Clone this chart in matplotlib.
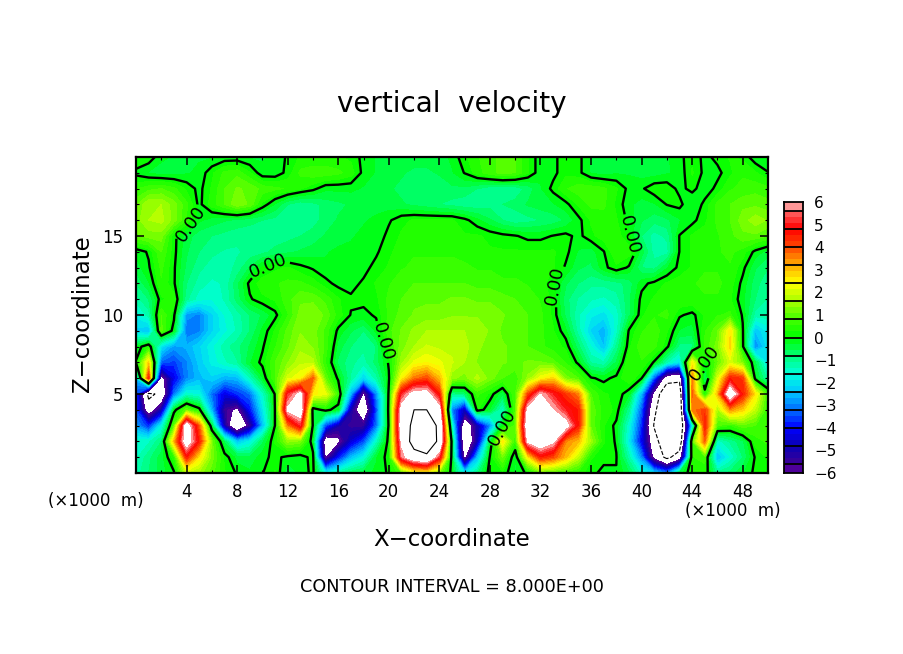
import numpy as np
import matplotlib
matplotlib.use("Agg")
from matplotlib import pyplot as plt
from matplotlib.colors import LinearSegmentedColormap, BoundaryNorm

# coordinates in units of 1000 m
x_km = list(range(0, 51))
z_km = list(range(0, 21))

# vertical velocity, one list per height, x = 0..50
w_z20 = [.3,.2,-.2,-.3,-.3,-.3,-.3,-.2,-.2,-.3,-.3, -.2,.05,.3,.3,.3,.3,.2,-.1,-.3,-.3, -.3,-.4,-.4,-.4,-.2,.2,.5,.7,.9,.8, .3,-.2,-.1,.2,.1,-.3,-.4,-.5,-.4,-.3, -.3,-.3,-.1,.2,-.1,.1,.3,.2,-.2,-.3]
w_z19 = [-.1,-.3,-.4,-.4,-.3,-.2,.2,.6,.7,.3,-.2, -.2,.1,.6,.7,.7,.6,.4,-.1,-.3,-.4, -.5,-.6,-.6,-.5,-.3,.02,.4,.7,.9,.8, .3,-.2,-.1,.2,.1,-.3,-.4,-.3,-.3,-.4, -.4,-.3,-.2,.3,-.1,-.1,.2,.5,.3,.02]
w_z18 = [.5,.7,.8,.6,.2,-.1,.3,.8,1.1,1.0,.7, .6,.5,.3,.1,-.2,-.2,-.2,-.3,-.4,-.5, -.6,-.7,-.8,-.7,-.6,-.6,-.8,-1.0,-1.0,-1.0, -.7,-.3,.1,.5,.7,.7,.6,.3,-.1,-.05, .2,.2,-.1,.1,-.2,.1,.5,.6,.7,.6]
w_z17 = [1.0,1.6,1.6,1.2,.6,-.1,.4,.8,1.3,1.0,.2, -.3,-.8,-1.0,-.9,-.7,-.6,-.5,-.4,-.4,-.4, -.5,-.6,-.7,-.8,-.9,-1.0,-1.0,-.9,-.8,-.7, -.5,-.4,-.3,-.1,.3,.6,.6,.2,-.2,-.4, -.3,.02,.1,-.3,.1,.6,.8,1.0,1.0,.9]
w_z16 = [1.2,1.6,1.7,1.2,.5,-.2,-.4,-.5,-.6,-.7,-.8, -.9,-1.0,-1.0,-.9,-.7,-.5,-.4,-.3,-.2,-.05, .2,.3,.3,.3,.3,.1,-.2,-.5,-.8,-1.0, -.9,-.8,-.7,-.5,-.1,.3,.4,.3,-.1,-.5, -.7,-.6,-.3,-.1,.2,.6,.8,1.2,1.5,1.3]
w_z15 = [1.0,1.2,1.2,.1,-.4,-.7,-.8,-.9,-1.0,-1.0,-1.0, -1.0,-.9,-.8,-.7,-.5,-.4,-.3,-.2,-.2,.1, .3,.4,.4,.4,.4,.3,.3,.2,.1,.03, -.1,-.1,.02,.1,-.1,.2,.4,.4,.05,-.8, -1.2,-1.0,.02,.3,.4,.5,.7,1.0,1.0,.8]
w_z14 = [-.2,.05,.8,.1,-.5,-.8,-1.0,-1.1,-1.1,-1.0,-.9, -.7,-.6,-.5,-.4,-.3,-.2,-.2,-.1,-.05,.2, .4,.5,.5,.5,.5,.4,.4,.3,.3,.3, .3,.3,.3,.1,-.3,-.4,-.02,.5,.4,-.4, -1.2,-1.2,.02,.3,.4,.5,.6,.4,-.1,-.4]
w_z13 = [-.4,-.05,.6,.05,-.6,-1.0,-1.2,-1.2,-1.0,-.5,.05, .2,.3,.1,-.05,-.2,-.2,-.2,-.1,.1,.3, .5,.6,.6,.6,.6,.6,.5,.5,.4,.4, .4,.4,.3,-.05,-.5,-.6,-.1,.2,-.05,-.8, -.9,-.3,.1,.3,.5,.5,.5,.1,-.5,-.8]
w_z12 = [-.8,-.3,.5,.05,-.8,-1.2,-1.4,-1.3,-.6,.1,.4, .5,.6,.6,.4,.1,-.1,-.1,.05,.3,.5, .7,.8,.8,.8,.8,.8,.7,.7,.6,.6, .5,.4,.05,-.5,-.8,-1.0,-1.0,-.9,-.7,-.1, .1,.3,.4,.5,.6,.6,.4,-.1,-.7,-1.0]
w_z11 = [-1.2,-.8,.2,.4,-1.0,-1.5,-1.6,-1.3,-.7,-.05,.2, .3,.7,1.0,1.0,.7,.3,.05,.1,.2,.6, .8,1.0,1.0,1.0,1.1,1.1,1.0,1.0,.9,.8, .7,.5,.2,-.7,-1.1,-1.3,-1.4,-1.2,-.6,.1, .3,.4,.5,.5,.5,.5,.3,-.2,-.8,-1.1]
w_z10 = [-1.8,-1.2,.8,.1,-2.8,-3.0,-2.2,-1.6,-1.2,-.8,-.5, -.1,.5,1.2,1.3,1.0,.4,-.02,-.1,.05,.6, .9,1.1,1.2,1.2,1.3,1.3,1.3,1.3,1.1,.9, .8,.6,.2,-.6,-1.3,-1.8,-2.0,-1.5,-.6,.2, .5,.6,.05,-.1,.3,.5,.6,-.05,-1.2,-1.2]
w_z09 = [-2.2,-2.5,.9,-.2,-3.2,-3.0,-2.2,-1.7,-1.3,-.8,-.2, .3,.9,1.3,1.2,.7,-.1,-.5,-.8,-.2,.7, 1.1,1.4,1.6,1.6,1.6,1.6,1.5,1.3,1.0,.9, .8,.6,.3,-.2,-1.2,-2.2,-2.6,-1.5,.05,.5, .7,.3,-.3,-.4,.5,1.0,2.6,.05,-2.4,-1.8]
w_z08 = [-.3,.4,-2.0,-2.8,-2.6,-2.2,-1.7,-1.2,-.9,-.5,-.05, .5,1.0,1.5,1.3,.7,-.4,-.8,-1.0,-.8,.5, 1.2,1.6,1.9,1.8,1.8,1.7,1.4,1.2,1.1,1.0, .8,.6,.4,.2,-.7,-1.6,-2.4,-1.0,.2,.7, .6,.1,-.9,-.9,.6,1.2,2.8,.1,-3.0,-2.0]
w_z07 = [.05,2.8,-3.3,-3.6,-3.0,-2.3,-1.8,-1.4,-1.1,-.3,.1, .8,1.3,1.8,1.7,.5,-.6,-1.0,-1.2,-.7,.05, 1.5,2.2,2.4,2.2,1.9,1.6,1.3,1.1,1.1,1.0, 1.1,1.1,.9,.5,-.1,-1.1,-1.3,-.5,.5,.5, -.05,-1.3,-2.0,2.5,-.1,1.0,2.0,1.2,-.5,-2.0]
w_z06 = [-2.5,4.5,-6.5,-4.2,-3.0,-2.5,-2.2,-2.6,-2.5,-1.4,-.3, .8,2.0,2.4,3.8,1.0,-.1,-1.1,-2.2,-1.2,-.05, 2.4,3.6,4.0,3.0,1.4,1.2,1.7,1.2,.8,.6, 1.4,2.3,2.8,1.2,.8,.05,-.1,.1,.5,.02, -3.5,-7.0,-7.5,3.5,-.8,2.0,4.5,4.2,-.2,-1.2]
w_z05 = [-3.5,-8.5,-7.5,-3.2,-1.5,-1.7,-3.2,-4.3,-3.7,-3.2,-1.5, .05,5.0,6.3,2.5,2.2,.6,-2.6,-6.3,-3.0,.1, 5.0,6.5,6.5,4.5,-1.0,-.8,.6,.2,-.5,.8, 4.0,6.0,5.0,4.2,3.5,.8,.3,.2,-.2,-2.6, -6.5,-10.0,-9.5,3.8,.3,3.0,7.0,4.5,2.6,.6]
w_z04 = [-3.5,-7.0,-5.0,-.2,1.0,.2,-2.6,-5.5,-6.3,-4.0,-2.0, .02,6.2,7.0,-.3,.2,-.3,-5.0,-7.5,-3.5,.2, 6.5,8.0,8.0,6.5,-3.0,-4.8,.3,-.3,-1.5,.8, 6.3,7.0,6.0,5.0,4.5,1.0,.4,.2,-1.0,-3.4, -7.5,-10.5,-10.0,3.5,4.2,1.6,3.4,2.8,1.8,.5]
w_z03 = [-2.8,-3.8,-1.8,.9,6.8,3.8,-.5,-5.0,-7.8,-5.5,-2.5, .02,3.5,5.0,-.1,-3.5,-5.0,-5.5,-5.5,-3.2,.1, 6.8,8.5,9.5,7.5,-1.5,-7.2,-5.0,-3.0,-.1,.9, 7.0,7.5,7.0,6.5,4.5,1.0,.3,-.1,-1.6,-3.8, -8.2,-10.5,-10.0,-2.0,4.5,.8,.5,1.0,.8,.6]
w_z02 = [-1.4,-1.4,-.8,3.0,6.8,4.5,1.2,-.6,-2.4,-1.8,-.6, .3,1.4,1.2,-.3,-7.0,-6.3,-4.5,-3.5,-1.5,.2, 6.2,9.0,9.8,7.5,-.3,-7.5,-5.0,-.5,2.6,.5, 6.2,7.0,6.2,3.5,3.0,1.5,.3,-.05,-1.9,-4.2, -7.0,-10.0,-9.5,.8,3.8,-1.5,-1.0,-.6,.4,.6]
w_z01 = [-1.4,-.9,-.4,.4,4.5,2.6,1.2,.2,-.4,-.5,-.1, .1,-.1,-.2,.15,-6.2,-4.0,-2.5,-1.7,-.3,.15, 5.5,7.0,7.5,5.0,-.3,-6.5,-2.5,.05,1.1,-.4, 2.5,4.5,4.0,3.0,1.8,.3,.1,.02,-1.2,-3.0, -6.5,-8.5,-7.0,.5,.7,-2.5,-1.6,-.8,.05,.3]
w_z00 = [-1.2,-.8,-.4,-.05,1.8,1.5,.9,.3,-.05,-.2,-.02, .3,-.5,-.2,.1,-1.8,-1.1,-.6,-.4,-.2,.05, .8,2.0,2.2,1.2,-.2,-2.0,-.9,.2,.2,-.3, .1,1.0,.8,.6,.4,.1,-.1,-.02,-.5,-1.5, -2.2,-3.0,-.5,.3,.3,-1.0,-.7,-.3,.1,.2]

w_rows = [w_z00, w_z01, w_z02, w_z03, w_z04, w_z05, w_z06, w_z07, w_z08, w_z09, w_z10,
          w_z11, w_z12, w_z13, w_z14, w_z15, w_z16, w_z17, w_z18, w_z19, w_z20]

x_ticklabels = [4, 8, 12, 16, 20, 24, 28, 32, 36, 40, 44, 48]
z_ticklabels = [5, 10, 15]
bar_ticklabels = [6, 5, 4, 3, 2, 1, 0, -1, -2, -3, -4, -5, -6]

# where the 0.00 labels sit on the zero line
label_spots = [(4.67, 15.5), (10.44, 13.3), (19.5, 8.3), (33.6, 11.9), (39.3, 15.06), (29.0, 2.9), (44.4, 7.0)]

color_anchors = [
    (-6.0, (110, 0, 160)), (-5.6, (60, 0, 150)), (-4.8, (10, 0, 180)), (-4.0, (0, 0, 255)),
    (-3.2, (0, 110, 255)), (-2.4, (0, 200, 255)), (-1.6, (0, 255, 220)), (-0.8, (0, 255, 120)),
    (0.0, (0, 255, 0)), (0.8, (70, 255, 0)), (1.6, (170, 255, 0)), (2.4, (255, 255, 0)),
    (3.2, (255, 170, 0)), (4.0, (255, 70, 0)), (4.8, (255, 0, 0)), (5.5, (255, 90, 90)),
    (5.6, (255, 145, 145)), (6.0, (255, 165, 165)),
]


def px_axes(fig, left, top, right, bottom):
    # pixel box of the reference -> figure fractions
    w, h = fig.get_size_inches() * fig.dpi
    return [left / w, 1 - bottom / h, (right - left) / w, (bottom - top) / h]


cmap = LinearSegmentedColormap.from_list(
    "wvel", [((v + 6) / 12, tuple(c / 255 for c in rgb)) for v, rgb in color_anchors], N=512)
cmap.set_under("white")
cmap.set_over("white")

box_edges = np.arange(-5.6, 5.7, 0.8)
fine_levels = np.concatenate(([-6.0], np.linspace(-5.6, 5.6, 43), [6.0]))
norm = BoundaryNorm(fine_levels, 512, extend="both")

fig = plt.figure(figsize=(9.04, 6.54), dpi=100)
ax = fig.add_axes(px_axes(fig, 136, 157, 768, 473))

w = np.array(w_rows)
ax.contourf(x_km, z_km, w, levels=fine_levels, cmap=cmap, norm=norm, extend="both")
ax.contour(x_km, z_km, w, levels=[-8], colors="k", linewidths=0.8, linestyles="dashed")
ax.contour(x_km, z_km, w, levels=[8], colors="k", linewidths=0.8, linestyles="solid")
cs_zero = ax.contour(x_km, z_km, w, levels=[0], colors="k", linewidths=1.7, linestyles="solid")
ax.clabel(cs_zero, manual=label_spots, fmt="%.2f", fontsize=13, inline=True, inline_spacing=2)

ax.set_xlim(0, 50)
ax.set_ylim(0, 20)
ax.set_xticks(x_ticklabels)
ax.set_xticks(np.arange(2, 50, 4), minor=True)
ax.set_yticks(z_ticklabels)
ax.set_yticks(np.arange(1, 20), minor=True)
ax.tick_params(which="major", direction="in", top=True, right=True, length=6, width=1.1, labelsize=12, pad=7)
ax.tick_params(which="minor", direction="in", top=True, right=True, length=2.5, width=0.8)
ax.tick_params(axis="y", pad=9)
for s in ax.spines.values():
    s.set_linewidth(1.6)

# colour bar
cax = fig.add_axes(px_axes(fig, 784, 202, 803, 473))
bar_mid = (fine_levels[:-1] + fine_levels[1:]) / 2
cax.pcolormesh([0, 1], fine_levels, bar_mid[:, None], cmap=cmap, norm=norm)
cax.hlines(box_edges, 0, 1, colors="k", linewidth=1.3)
cax.set_xlim(0, 1)
cax.set_ylim(-6, 6)
cax.set_xticks([])
cax.yaxis.tick_right()
cax.set_yticks(bar_ticklabels)
cax.set_yticklabels([str(v).replace("-", "\u2212") for v in bar_ticklabels])
cax.tick_params(axis="y", length=0, labelsize=11, pad=8)
for s in cax.spines.values():
    s.set_linewidth(1.3)

fig.text(452 / 904, 1 - 104 / 654, "vertical  velocity", ha="center", va="center", fontsize=20)
fig.text(452 / 904, 1 - 540 / 654, "X\u2212coordinate", ha="center", va="center", fontsize=16.5)
fig.text(83 / 904, 1 - 314 / 654, "Z\u2212coordinate", ha="center", va="center", rotation=90, fontsize=16.5)
fig.text(96 / 904, 1 - 501 / 654, "(\u00d71000  m)", ha="center", va="center", fontsize=12)
fig.text(733 / 904, 1 - 511 / 654, "(\u00d71000  m)", ha="center", va="center", fontsize=12)
fig.text(452 / 904, 1 - 587 / 654, "CONTOUR INTERVAL = 8.000E+00", ha="center", va="center", fontsize=12.7)

fig.savefig("out.png", dpi=100)
